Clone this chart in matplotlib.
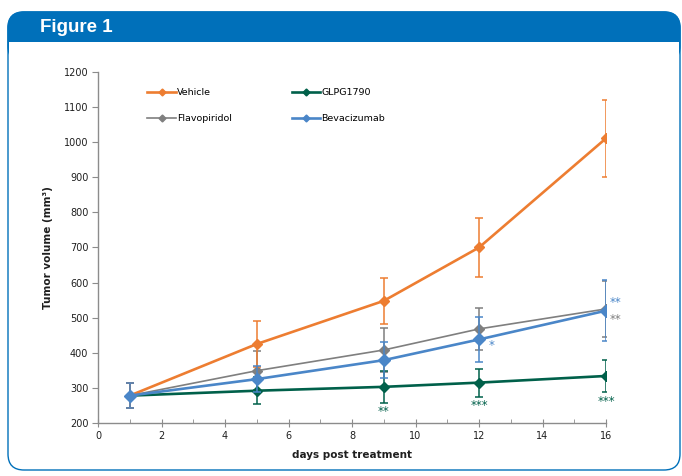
import matplotlib.pyplot as plt
from matplotlib.patches import FancyBboxPatch, Rectangle
from matplotlib.ticker import MultipleLocator

# 数据
days = [1, 5, 9, 12, 16]
vehicle = [278, 425, 548, 700, 1011]
vehicle_err = [36, 65, 65, 84, 110]
glpg = [278, 292, 303, 315, 334]
glpg_err = [36, 38, 45, 40, 46]
flavo = [278, 349, 408, 468, 525]
flavo_err = [36, 56, 64, 61, 80]
bev = [278, 325, 379, 438, 520]
bev_err = [36, 37, 52, 63, 86]

# 显著性标记: (系列, 天, 文本)
sig_marks = [
    ("GLPG1790", 9, "**"),
    ("GLPG1790", 12, "***"),
    ("GLPG1790", 16, "***"),
    ("Bevacizumab", 12, "*"),
    ("Bevacizumab", 16, "**"),
    ("Flavopiridol", 16, "**"),
]

C_VEH = "#ED7D31"
C_GLPG = "#00604A"
C_FLAVO = "#7F7F7F"
C_BEV = "#4A86C8"
C_BANNER = "#0070BA"

plt.rcParams["font.family"] = ["DejaVu Sans"]

W, H = 682, 476
fig = plt.figure(figsize=(W / 100, H / 100), dpi=100)

# 背景框
bg = fig.add_axes([0, 0, 1, 1])
bg.set_xlim(0, W)
bg.set_ylim(H, 0)
bg.axis("off")
bg.add_patch(FancyBboxPatch((8, 12), 672, 458, boxstyle="round,pad=0,rounding_size=16",
                            facecolor="white", edgecolor=C_BANNER, lw=1.0))
bg.add_patch(FancyBboxPatch((8, 12), 672, 50, boxstyle="round,pad=0,rounding_size=16",
                            facecolor=C_BANNER, edgecolor=C_BANNER, lw=1.0))
bg.add_patch(Rectangle((8.8, 42), 670.4, 25, facecolor="white", edgecolor="none"))
bg.text(40, 28, "Figure 1", color="white", fontsize=13.5, fontweight="bold",
        family="Liberation Sans", va="center", ha="left")

ax = fig.add_axes([98 / W, 1 - 423 / H, 508 / W, 351 / H])

series = {
    "Vehicle": (vehicle, vehicle_err, C_VEH, 1.9, 7),
    "GLPG1790": (glpg, glpg_err, C_GLPG, 1.9, 6.5),
    "Flavopiridol": (flavo, flavo_err, C_FLAVO, 1.2, 7),
    "Bevacizumab": (bev, bev_err, C_BEV, 1.9, 8),
}
order = ["Flavopiridol", "GLPG1790", "Vehicle", "Bevacizumab"]
z = {"Flavopiridol": 3, "GLPG1790": 4, "Vehicle": 5, "Bevacizumab": 6}
for name in order:
    vals, err, col, lw, ms = series[name]
    ax.errorbar(days, vals, yerr=err, color=col, lw=lw, marker="D", ms=ms * 0.75,
                elinewidth=1.1, capsize=3, capthick=1.1, zorder=z[name])

# 图例
handles = []
for name in ["Vehicle", "Flavopiridol", "GLPG1790", "Bevacizumab"]:
    vals, err, col, lw, ms = series[name]
    h, = ax.plot([], [], color=col, lw=lw, marker="D", ms=3.5, label=name)
    handles.append(h)
ax.legend(handles=handles, loc="upper left", bbox_to_anchor=(0.09, 0.965), ncol=2,
          frameon=False, fontsize=6.8, handlelength=3.0, handletextpad=0.15,
          columnspacing=6.3, labelspacing=1.8, borderaxespad=0)

# 显著性星号
for name, day, txt in sig_marks:
    vals, err, col, lw, ms = series[name]
    i = days.index(day)
    if name == "GLPG1790":
        xy, off, va = (day, vals[i] - err[i]), (0, -2), "top"
    elif name == "Bevacizumab" and day == 12:
        xy, off, va = (day, vals[i]), (9, 0), "top"
    elif name == "Bevacizumab":
        xy, off, va = (day, vals[i]), (7, 1), "bottom"
    else:
        xy, off, va = (day, vals[i]), (7, -3), "top"
    ax.annotate(txt, xy=xy, xytext=off, textcoords="offset points", ha="center", va=va,
                color=col, fontsize=8.5, zorder=7)

ax.set_xlim(0, 16)
ax.set_ylim(200, 1200)
ax.xaxis.set_major_locator(MultipleLocator(2))
ax.xaxis.set_minor_locator(MultipleLocator(1))
ax.yaxis.set_major_locator(MultipleLocator(100))
for s in ["top", "right"]:
    ax.spines[s].set_visible(False)
for s in ["left", "bottom"]:
    ax.spines[s].set_color("#8C8C8C")
    ax.spines[s].set_linewidth(1.0)
ax.tick_params(axis="x", which="major", direction="inout", length=6, color="#8C8C8C",
               labelsize=7, labelcolor="#1F1F1F", pad=3)
ax.tick_params(axis="x", which="minor", direction="in", length=3, color="#8C8C8C")
ax.tick_params(axis="y", which="major", direction="out", length=4, color="#8C8C8C",
               labelsize=7, labelcolor="#1F1F1F", pad=3)
ax.set_xlabel("days post treatment", fontsize=7.5, fontweight="bold", labelpad=6, color="#1F1F1F")
ax.set_ylabel("Tumor volume (mm³)", fontsize=7.5, fontweight="bold", labelpad=8, color="#1F1F1F")

fig.savefig("out.png", dpi=100)
